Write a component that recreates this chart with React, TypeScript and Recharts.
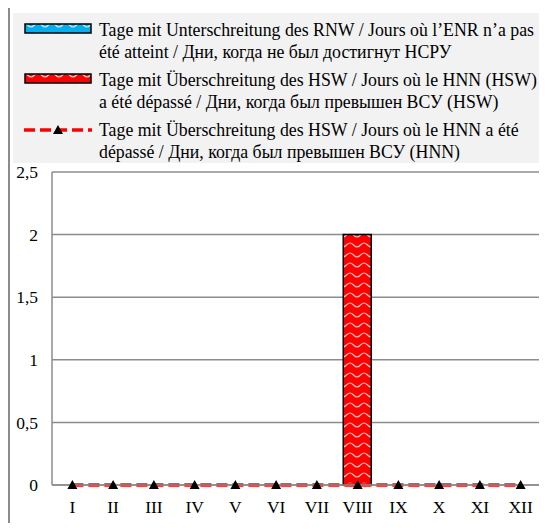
import { BarChart, Bar, Line, XAxis, YAxis, CartesianGrid } from 'recharts'

const months = ['I', 'II', 'III', 'IV', 'V', 'VI', 'VII', 'VIII', 'IX', 'X', 'XI', 'XII']
const daysBelowRnw = [0, 0, 0, 0, 0, 0, 0, 0, 0, 0, 0, 0]
const daysAboveHsw = [0, 0, 0, 0, 0, 0, 0, 2, 0, 0, 0, 0]
const daysAboveHnn = [0, 0, 0, 0, 0, 0, 0, 0, 0, 0, 0, 0]
const yTicks = [0, 0.5, 1, 1.5, 2, 2.5]

const legendLines = [
  ['Tage mit Unterschreitung des RNW / Jours où l’ENR n’a pas', 'été atteint / Дни, когда не был достигнут НСРУ'],
  ['Tage mit Überschreitung des HSW / Jours où le HNN (HSW)', 'a été dépassé / Дни, когда был превышен ВСУ (HSW)'],
  ['Tage mit Überschreitung des HSW / Jours où le HNN a été', 'dépassé / Дни, когда был превышен ВСУ (HNN)'],
]

const data = months.map((m, i) => ({
  month: m,
  rnw: daysBelowRnw[i],
  hsw: daysAboveHsw[i],
  hnn: daysAboveHnn[i],
}))

const FONT = '"Liberation Serif"'
const GRID = '#8c8c8c'
const RED = '#ff0000'
const BLUE = '#00b0f0'

// wavy white pattern used in Excel-style hatched fills
function WavePattern({ id, color }: { id: string; color: string }) {
  return (
    <pattern id={id} width={14} height={10} patternUnits="userSpaceOnUse">
      <rect width={14} height={10} fill={color} />
      <path d="M0,3 C3,3 4,7 7,7 C10,7 11,3 14,3" fill="none" stroke="#fff" strokeWidth={1.2} strokeOpacity={0.75} />
    </pattern>
  )
}

function TriangleDot(props: any) {
  const { cx, cy } = props
  if (cx == null || cy == null) return null
  return <polygon points={`${cx},${cy - 5} ${cx - 5},${cy + 4} ${cx + 5},${cy + 4}`} fill="#000" />
}

function LegendBox() {
  return (
    <div
      style={{
        position: 'absolute',
        left: 13,
        top: 13,
        width: 528,
        height: 150,
        background: '#f2f2f2',
        fontFamily: FONT,
        fontSize: 17.8,
        color: '#000',
      }}
    >
      {legendLines.map((lines, i) => (
        <div key={i} style={{ position: 'absolute', left: 0, top: 6 + i * 50, width: 528 }}>
          <svg width={70} height={20} style={{ position: 'absolute', left: 11, top: 1 }}>
            <defs>
              <WavePattern id={`lg-blue-${i}`} color={BLUE} />
              <WavePattern id={`lg-red-${i}`} color={RED} />
            </defs>
            {i === 0 && <rect x={1} y={4} width={66} height={9} fill={`url(#lg-blue-${i})`} stroke="#000" strokeWidth={1.5} />}
            {i === 1 && <rect x={1} y={4} width={66} height={9} fill={`url(#lg-red-${i})`} stroke="#000" strokeWidth={1.5} />}
            {i === 2 && (
              <>
                <line x1={0} y1={10} x2={68} y2={10} stroke={RED} strokeWidth={3.5} strokeDasharray="11 5" />
                <polygon points="34,5 29,14 39,14" fill="#000" />
              </>
            )}
          </svg>
          <div style={{ position: 'absolute', left: 86, top: 0, lineHeight: '22px', whiteSpace: 'nowrap' }}>
            {lines[0]}
            <br />
            {lines[1]}
          </div>
        </div>
      ))}
    </div>
  )
}

export default function App() {
  return (
    <div style={{ position: 'relative', width: 547, height: 531, margin: -8, overflow: 'hidden', background: '#fff' }}>
      <div
        style={{
          position: 'absolute',
          left: 8,
          top: 2,
          width: 540,
          height: 540,
          borderLeft: `2px solid ${GRID}`,
          borderTop: `2px solid ${GRID}`,
        }}
      />
      <LegendBox />
      <div style={{ position: 'absolute', left: 0, top: 0 }}>
        <BarChart
          width={547}
          height={531}
          data={data}
          margin={{ top: 172, right: 6, bottom: 16, left: 0 }}
          barSize={28}
        >
          <defs>
            <WavePattern id="bar-red" color={RED} />
            <WavePattern id="bar-blue" color={BLUE} />
          </defs>
          <CartesianGrid vertical={false} stroke={GRID} strokeWidth={1.5} />
          <XAxis
            dataKey="month"
            height={30}
            axisLine={{ stroke: GRID, strokeWidth: 1.5 }}
            tickLine={false}
            tickSize={0}
            tickMargin={16}
            tick={{ fill: '#000', fontSize: 17.5, fontFamily: FONT }}
            interval={0}
          />
          <YAxis
            width={52}
            domain={[0, 2.5]}
            ticks={yTicks}
            axisLine={{ stroke: GRID, strokeWidth: 1.5 }}
            tickLine={false}
            tickSize={0}
            tickMargin={14}
            tickFormatter={(v: number) => String(v).replace('.', ',')}
            tick={{ fill: '#000', fontSize: 17.5, fontFamily: FONT }}
          />
          <Bar dataKey="rnw" stackId="a" fill="url(#bar-blue)" stroke="#000" strokeWidth={1.5} isAnimationActive={false} />
          <Bar dataKey="hsw" stackId="a" fill="url(#bar-red)" stroke="#000" strokeWidth={1.5} isAnimationActive={false} />
          <Line
            dataKey="hnn"
            stroke={RED}
            strokeWidth={3.5}
            strokeDasharray="11 5"
            dot={<TriangleDot />}
            activeDot={false}
            isAnimationActive={false}
          />
        </BarChart>
      </div>
    </div>
  )
}
